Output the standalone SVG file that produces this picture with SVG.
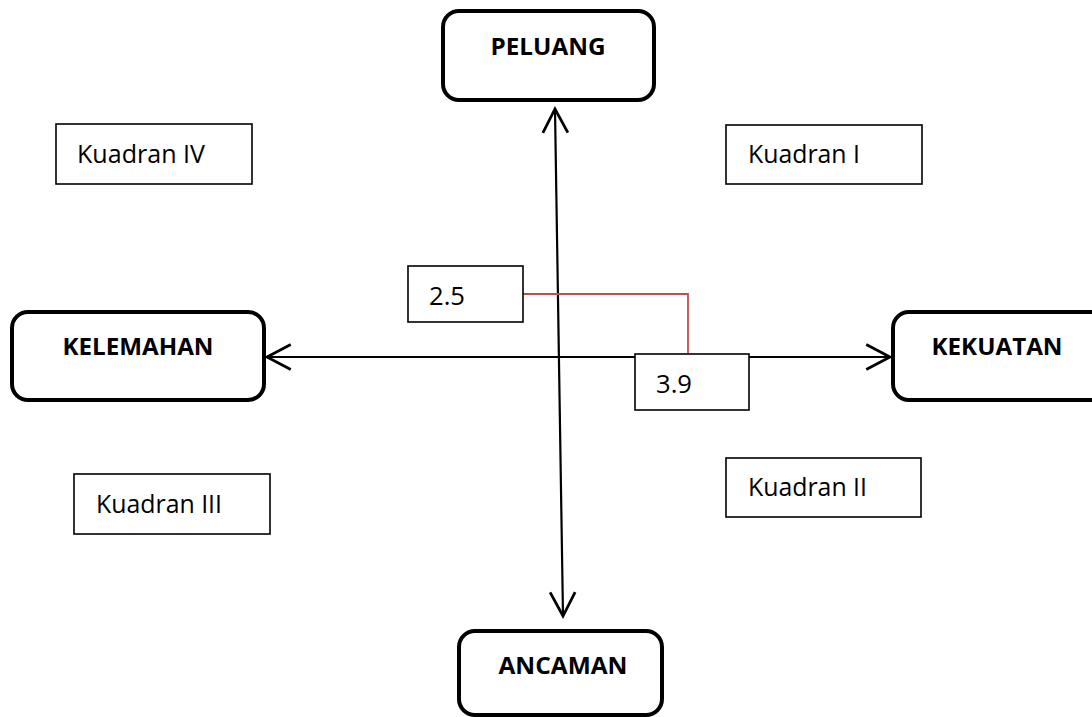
<svg xmlns="http://www.w3.org/2000/svg" width="1092" height="717" viewBox="0 0 1092 717">
<style>
.main{fill:#fff;stroke:#000;stroke-width:4}
.box{fill:#fff;stroke:#000;stroke-width:1.6}
.tb{font-family:"Open Sans","Liberation Sans",sans-serif;font-weight:bold;font-size:24px;fill:#000;text-anchor:middle}
.tn{font-family:"Open Sans","Liberation Sans",sans-serif;font-size:26px;fill:#000}
.axis{stroke:#000;stroke-width:2.2;fill:none}
</style>
<defs>
<marker id="arr" markerUnits="userSpaceOnUse" markerWidth="30" markerHeight="30" refX="0" refY="0" viewBox="-22 -12 24 24" orient="auto-start-reverse" overflow="visible">
<path d="M -19 -10 L 0 0 L -19 10" fill="none" stroke="#000" stroke-width="2.2"/>
</marker>
</defs>
<g id="connectors">
<line class="axis" x1="267" y1="357" x2="890" y2="357" marker-start="url(#arr)" marker-end="url(#arr)"/>
<line class="axis" x1="555" y1="109" x2="563" y2="616" marker-start="url(#arr)" marker-end="url(#arr)"/>
<polyline points="523,294 688,294 688,353" fill="none" stroke="#c0504d" stroke-width="1.8"/>
</g>
<g id="peluang"><rect class="main" x="443" y="11" width="211" height="89" rx="16"/><text class="tb" x="548" y="55" textLength="115" lengthAdjust="spacingAndGlyphs">PELUANG</text></g>
<g id="kelemahan"><rect class="main" x="12" y="312" width="252" height="88" rx="16"/><text class="tb" x="138" y="355" textLength="151" lengthAdjust="spacingAndGlyphs">KELEMAHAN</text></g>
<g id="kekuatan"><rect class="main" x="893" y="312" width="215" height="88" rx="16"/><text class="tb" x="997" y="355" textLength="131" lengthAdjust="spacingAndGlyphs">KEKUATAN</text></g>
<g id="ancaman"><rect class="main" x="459" y="631" width="203" height="84" rx="16"/><text class="tb" x="563" y="674" textLength="129" lengthAdjust="spacingAndGlyphs">ANCAMAN</text></g>
<g id="kuadran-iv"><rect class="box" x="56" y="124" width="196" height="60"/><text class="tn" x="77" y="163" textLength="128" lengthAdjust="spacingAndGlyphs">Kuadran IV</text></g>
<g id="kuadran-i"><rect class="box" x="726" y="125" width="196" height="59"/><text class="tn" x="748" y="163" textLength="112" lengthAdjust="spacingAndGlyphs">Kuadran I</text></g>
<g id="kuadran-iii"><rect class="box" x="74" y="474" width="196" height="60"/><text class="tn" x="96" y="513" textLength="126" lengthAdjust="spacingAndGlyphs">Kuadran III</text></g>
<g id="kuadran-ii"><rect class="box" x="726" y="458" width="195" height="59"/><text class="tn" x="748" y="496" textLength="119" lengthAdjust="spacingAndGlyphs">Kuadran II</text></g>
<g id="val-2-5"><rect class="box" x="408" y="266" width="115" height="56"/><text class="tn" x="429" y="305" textLength="36" lengthAdjust="spacingAndGlyphs">2.5</text></g>
<g id="val-3-9"><rect class="box" x="635" y="354" width="114" height="56"/><text class="tn" x="656" y="393" textLength="36" lengthAdjust="spacingAndGlyphs">3.9</text></g>
</svg>
